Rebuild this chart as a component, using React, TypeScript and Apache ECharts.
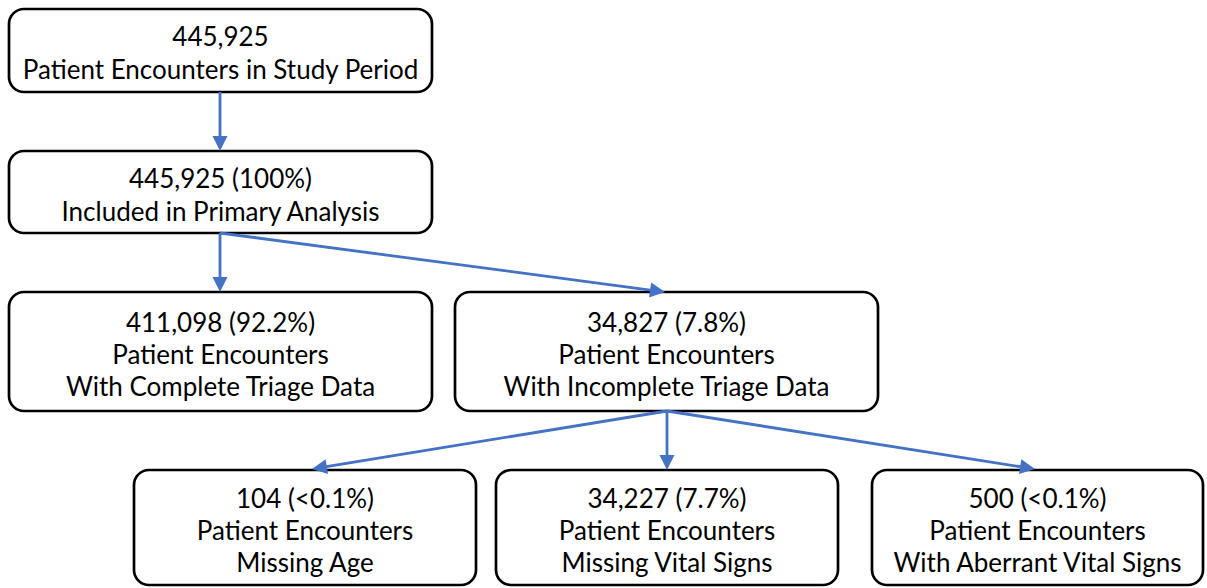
import React, { useEffect, useRef } from "react";
import * as echarts from "echarts";

// Node contents
const nodeCounts = ["445,925", "445,925 (100%)", "411,098 (92.2%)", "34,827 (7.8%)", "104 (<0.1%)", "34,227 (7.7%)", "500 (<0.1%)"];
const nodeLines = [
  ["Patient Encounters in Study Period"],
  ["Included in Primary Analysis"],
  ["Patient Encounters", "With Complete Triage Data"],
  ["Patient Encounters", "With Incomplete Triage Data"],
  ["Patient Encounters", "Missing Age"],
  ["Patient Encounters", "Missing Vital Signs"],
  ["Patient Encounters", "With Aberrant Vital Signs"],
];
// Edges: [from, to]
const edges: [number, number][] = [[0, 1], [1, 2], [1, 3], [3, 4], [3, 5], [3, 6]];

// Layout (positions/sizes)
const boxes = [
  { x: 9, y: 9, w: 423, h: 83 },
  { x: 9, y: 151, w: 423, h: 82 },
  { x: 9, y: 292, w: 423, h: 119 },
  { x: 455, y: 292, w: 423, h: 119 },
  { x: 134, y: 470, w: 342, h: 115 },
  { x: 496, y: 470, w: 342, h: 115 },
  { x: 872, y: 470, w: 331, h: 115 },
];
const edgeStarts = [
  [220, 92], [220, 233], [220, 233], [667, 411], [667, 411], [667, 411],
];
const edgeEnds = [
  [220, 151], [220, 292], [665, 292], [312, 469], [667, 470], [1035, 469],
];

const BLUE = "#4472C4";
const FONT = "Lato";

export default function App() {
  const ref = useRef<HTMLDivElement>(null);
  useEffect(() => {
    document.body.style.margin = "0";
    const chart = echarts.init(ref.current!, null, { renderer: "svg" });
    const elements: any[] = [];
    boxes.forEach((b, i) => {
      elements.push({
        type: "rect",
        shape: { x: b.x, y: b.y, width: b.w, height: b.h, r: 15 },
        style: { fill: "#fff", stroke: "#000", lineWidth: 2.7 },
      });
      const text = [nodeCounts[i], ...nodeLines[i]].join("\n");
      elements.push({
        type: "text",
        x: b.x + b.w / 2,
        y: b.y + b.h / 2 + 2,
        style: {
          text,
          fill: "#000",
          font: `26px ${FONT}`,
          fontFamily: FONT,
          fontSize: 26,
          align: "center",
          verticalAlign: "middle",
          lineHeight: nodeLines[i].length === 1 ? 33 : 32,
        },
      });
    });
    edges.forEach((e, k) => {
      const [x1, y1] = edgeStarts[k];
      const [x2, y2] = edgeEnds[k];
      const dx = x2 - x1, dy = y2 - y1;
      const len = Math.sqrt(dx * dx + dy * dy);
      const ux = dx / len, uy = dy / len;
      const headLen = 15, headHalf = 7.5;
      const bx = x2 - ux * headLen, by = y2 - uy * headLen;
      elements.push({
        type: "line",
        shape: { x1, y1, x2: bx + ux * 2, y2: by + uy * 2 },
        style: { stroke: BLUE, lineWidth: 2.8 },
      });
      elements.push({
        type: "polygon",
        shape: {
          points: [
            [x2, y2],
            [bx - uy * headHalf, by + ux * headHalf],
            [bx + uy * headHalf, by - ux * headHalf],
          ],
        },
        style: { fill: BLUE },
      });
    });
    chart.setOption({
      animation: false,
      backgroundColor: "#fff",
      graphic: { elements },
    });
    return () => chart.dispose();
  }, []);
  return <div ref={ref} style={{ width: 1207, height: 588, position: "absolute", left: 0, top: 0 }} />;
}
